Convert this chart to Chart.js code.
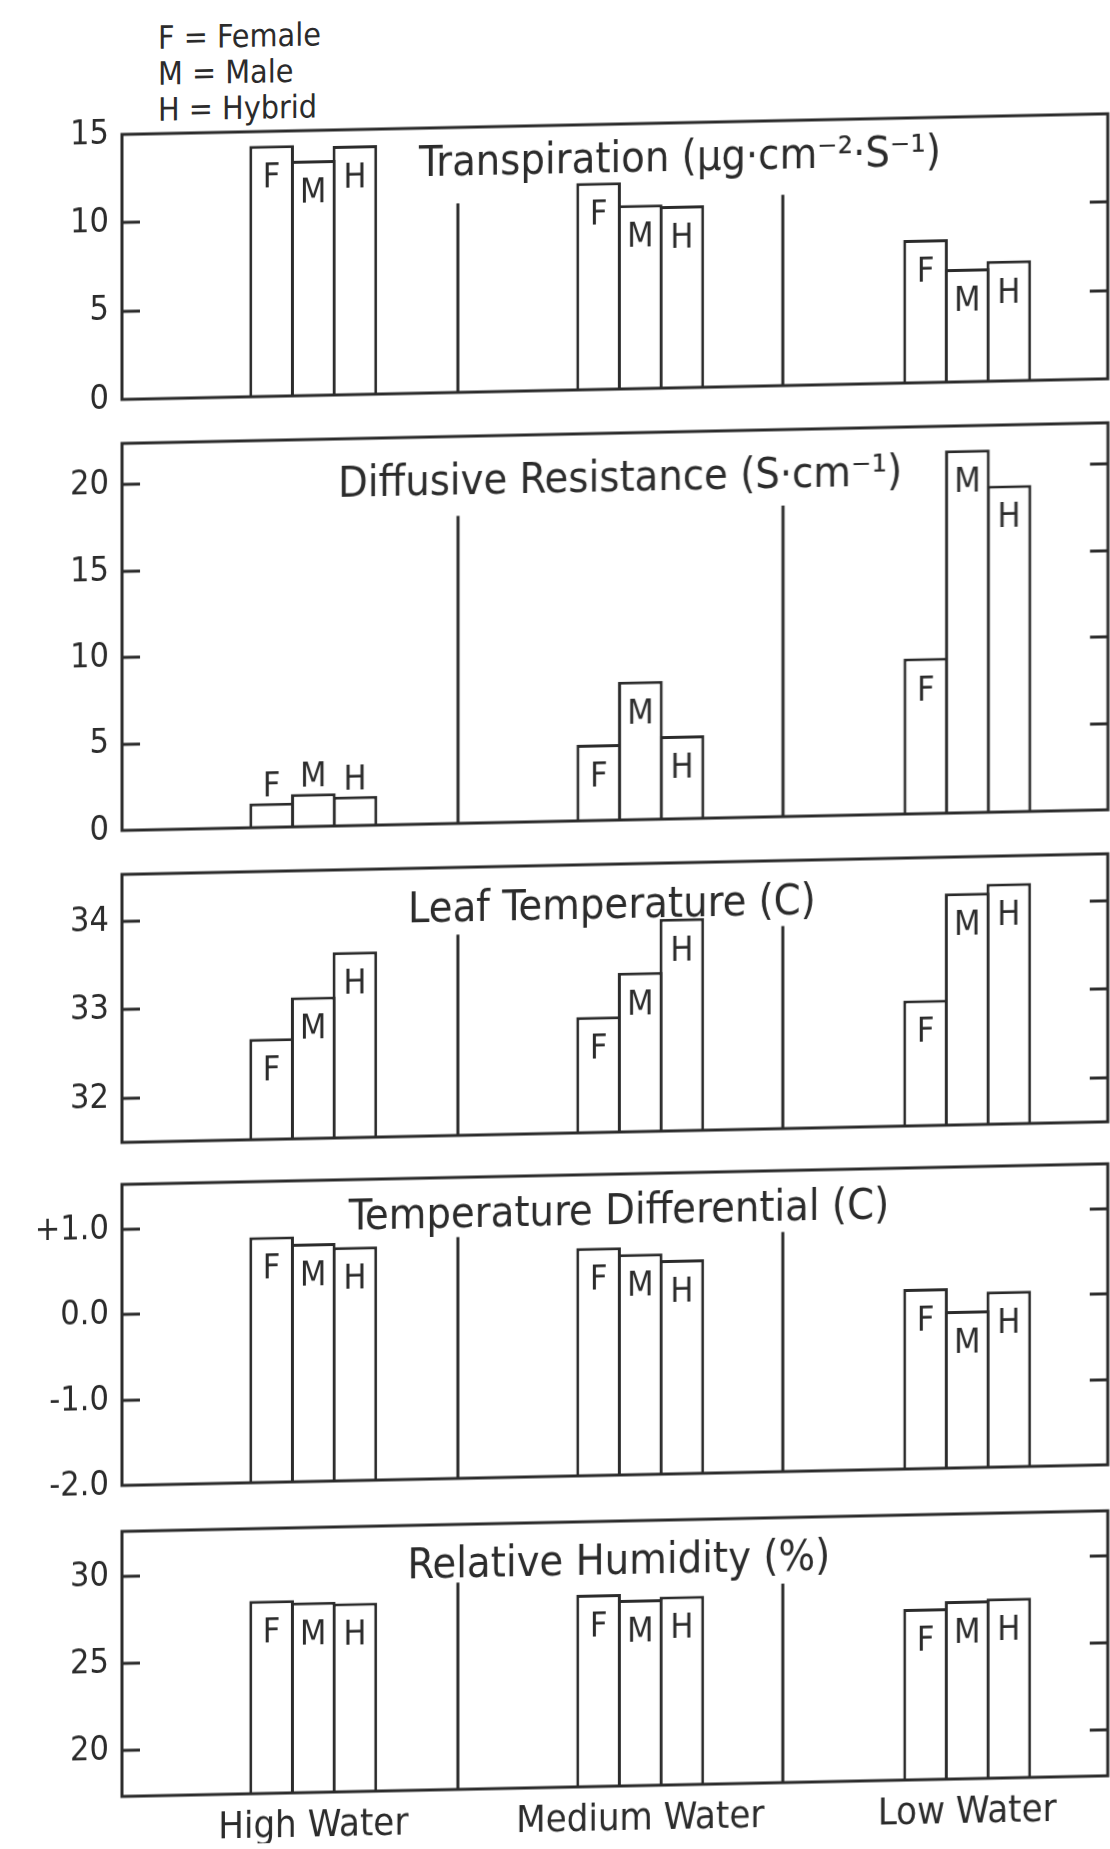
<!DOCTYPE html>
<html>
<head>
<meta charset="utf-8">
<script src="https://cdn.jsdelivr.net/npm/chart.js@4.4.1/dist/chart.umd.min.js"></script>
<style>
  html, body { margin: 0; padding: 0; background: #fff; overflow: hidden; }
  /* the scanned figure leans a little: horizontals rise to the right */
  #sheet { position: relative; width: 1110px; height: 1849px; transform: skewY(-1.2deg); transform-origin: 0 0; }
  .panel { position: absolute; left: 0; width: 1110px; }
  #key { position: absolute; left: 158px; top: 23px; color: #2b2b2b;
         font: 32px/36px 'DejaVu Sans Condensed', 'DejaVu Sans', sans-serif; }
</style>
</head>
<body>
<div id="sheet">
  <div id="key"></div>
  <div class="panel" style="top:117px;height:305px"><canvas id="p1"></canvas></div>
  <div class="panel" style="top:426px;height:427px"><canvas id="p2"></canvas></div>
  <div class="panel" style="top:857px;height:308px"><canvas id="p3"></canvas></div>
  <div class="panel" style="top:1167px;height:341px"><canvas id="p4"></canvas></div>
  <div class="panel" style="top:1514px;height:335px"><canvas id="p5"></canvas></div>
</div>
<script>
const groups = ["High Water", "Medium Water", "Low Water"];
const plants = ["F", "M", "H"];
const legendLines = ["F = Female", "M = Male", "H = Hybrid"];

// Transpiration
const transF = [14.2, 11.7, 8.1];
const transM = [13.3, 10.4, 6.4];
const transH = [14.1, 10.3, 6.8];
const transTicks = [0, 5, 10, 15];
const transTickLabels = ["0", "5", "10", "15"];
const transSplit = [10.7, 10.8];

// Diffusive resistance
const diffF = [1.4, 4.4, 9.0];
const diffM = [1.9, 8.0, 21.0];
const diffH = [1.7, 4.8, 18.9];
const diffTicks = [0, 5, 10, 15, 20];
const diffTickLabels = ["0", "5", "10", "15", "20"];
const diffSplit = [17.8, 18.0];

// Leaf temperature
const leafF = [32.64, 32.81, 32.92];
const leafM = [33.1, 33.3, 34.12];
const leafH = [33.6, 33.9, 34.22];
const leafTicks = [32, 33, 34];
const leafTickLabels = ["32", "33", "34"];
const leafSplit = [33.77, 33.79];

// Temperature differential
const deltaF = [0.88, 0.67, 0.11];
const deltaM = [0.79, 0.59, -0.16];
const deltaH = [0.74, 0.51, 0.06];
const deltaTicks = [-2, -1, 0, 1];
const deltaTickLabels = ["-2.0", "-1.0", "0.0", "+1.0"];
const deltaSplit = [0.83, 0.81];

// Relative humidity
const rhF = [28.45, 28.4, 27.2];
const rhM = [28.3, 28.05, 27.6];
const rhH = [28.2, 28.2, 27.7];
const rhTicks = [20, 25, 30];
const rhTickLabels = ["20", "25", "30"];
const rhSplit = [29.25, 28.8];

const INK = "#2b2b2b";
const FONT = "'DejaVu Sans Condensed', 'DejaVu Sans', sans-serif";
const splitAt = [1.442, 2.437]; // where the separators stand on the x scale

document.getElementById("key").innerHTML = legendLines.map((t) => `<div>${t}</div>`).join("");

const panels = [
  { id: "p1", title: "Transpiration (µg·cm⁻²·S⁻¹)", values: [transF, transM, transH],
    ticks: transTicks, tickLabels: transTickLabels, split: transSplit, min: 0, max: 15, titleX: 680, titleY: 48 },
  { id: "p2", title: "Diffusive Resistance (S·cm⁻¹)", values: [diffF, diffM, diffH],
    ticks: diffTicks, tickLabels: diffTickLabels, split: diffSplit, min: 0, max: 22.4, titleX: 620, titleY: 58 },
  { id: "p3", title: "Leaf Temperature (C)", values: [leafF, leafM, leafH],
    ticks: leafTicks, tickLabels: leafTickLabels, split: leafSplit, min: 31.5, max: 34.53, titleX: 612, titleY: 54 },
  { id: "p4", title: "Temperature Differential (C)", values: [deltaF, deltaM, deltaH],
    ticks: deltaTicks, tickLabels: deltaTickLabels, split: deltaSplit, min: -2, max: 1.53, titleX: 619, titleY: 50 },
  { id: "p5", title: "Relative Humidity (%)", values: [rhF, rhM, rhH],
    ticks: rhTicks, tickLabels: rhTickLabels, split: rhSplit, min: 17.38, max: 32.59, titleX: 619, titleY: 53 },
];

// frame, inward ticks, separators, bar letters and the title inside the box
const decor = {
  id: "decor",
  afterDatasetsDraw(chart, args, opts) {
    const { ctx, chartArea: a } = chart;
    const { x, y } = chart.scales;
    ctx.save();
    ctx.strokeStyle = INK;
    ctx.lineWidth = 3;
    opts.split.forEach((v, i) => {
      const px = Math.round(x.getPixelForValue(splitAt[i]));
      ctx.beginPath();
      ctx.moveTo(px, y.getPixelForValue(v));
      ctx.lineTo(px, a.bottom);
      ctx.stroke();
    });

    ctx.fillStyle = INK;
    ctx.textAlign = "center";
    ctx.textBaseline = "alphabetic";
    ctx.font = `34px ${FONT}`;
    chart.data.datasets.forEach((ds, i) => {
      chart.getDatasetMeta(i).data.forEach((bar) => {
        const tall = bar.base - bar.y > 60;
        ctx.fillText(ds.label, bar.x, tall ? bar.y + 42 : bar.y - 7);
      });
    });

    ctx.font = `43px ${FONT}`;
    ctx.fillText(opts.title, opts.titleX, a.top + opts.titleY);
    ctx.restore();
  },
  afterDraw(chart, args, opts) {
    const { ctx, chartArea: a } = chart;
    const y = chart.scales.y;
    ctx.save();
    ctx.strokeStyle = INK;
    ctx.lineWidth = 3;
    ctx.strokeRect(a.left, a.top, a.right - a.left, a.bottom - a.top);
    y.ticks.forEach((t) => {
      if (t.value <= y.min || t.value >= y.max) return;
      const py = Math.round(y.getPixelForValue(t.value));
      ctx.beginPath();
      ctx.moveTo(a.left, py);
      ctx.lineTo(a.left + 18, py);
      ctx.moveTo(a.right - 18, py);
      ctx.lineTo(a.right, py);
      ctx.stroke();
    });
    ctx.restore();
  },
};

function drawPanel(p, showGroups) {
  const datasets = plants.map((name, i) => ({
    label: name,
    data: p.values[i].map((v, g) => ({ x: g + 1, y: v })),
    base: p.min,
    backgroundColor: "#fff",
    borderColor: INK,
    borderWidth: 3,
    borderSkipped: "start",
    categoryPercentage: 0.382,
    barPercentage: 1.072,
  }));

  new Chart(document.getElementById(p.id), {
    type: "bar",
    data: { datasets },
    options: {
      responsive: true,
      maintainAspectRatio: false,
      animation: false,
      events: [],
      devicePixelRatio: 1,
      layout: { padding: { top: 20, right: 2, bottom: showGroups ? 0 : 20, left: 0 } },
      plugins: {
        legend: { display: false },
        tooltip: { enabled: false },
        decor: { split: p.split, title: p.title, titleX: p.titleX, titleY: p.titleY },
      },
      scales: {
        x: {
          type: "linear",
          min: 0.415,
          max: 3.43,
          offset: false,
          display: showGroups,
          grid: { display: false, drawTicks: false },
          border: { display: false },
          afterBuildTicks: (s) => { s.ticks = groups.map((_, i) => ({ value: i + 1 })); },
          afterFit: (s) => {
            s.height = showGroups ? 50 : 0;
            s.paddingLeft = 0;
            s.paddingRight = 0;
          },
          ticks: {
            callback: (v, i) => groups[i],
            color: INK,
            font: { family: FONT, size: 38 },
            padding: 11,
            maxRotation: 0,
            autoSkip: false,
          },
        },
        y: {
          min: p.min,
          max: p.max,
          grid: { display: false, drawTicks: false },
          border: { display: false },
          afterBuildTicks: (s) => { s.ticks = p.ticks.map((v) => ({ value: v })); },
          afterFit: (s) => {
            // keep the box where the figure has it; labels may overhang the padding
            s.width = 122;
            s.paddingTop = 0;
            s.paddingBottom = 0;
          },
          ticks: {
            callback: (v, i) => p.tickLabels[i],
            color: INK,
            font: { family: FONT, size: 34 },
            padding: 13,
          },
        },
      },
    },
    plugins: [decor],
  });
}

panels.forEach((p, i) => drawPanel(p, i === panels.length - 1));
</script>
</body>
</html>
